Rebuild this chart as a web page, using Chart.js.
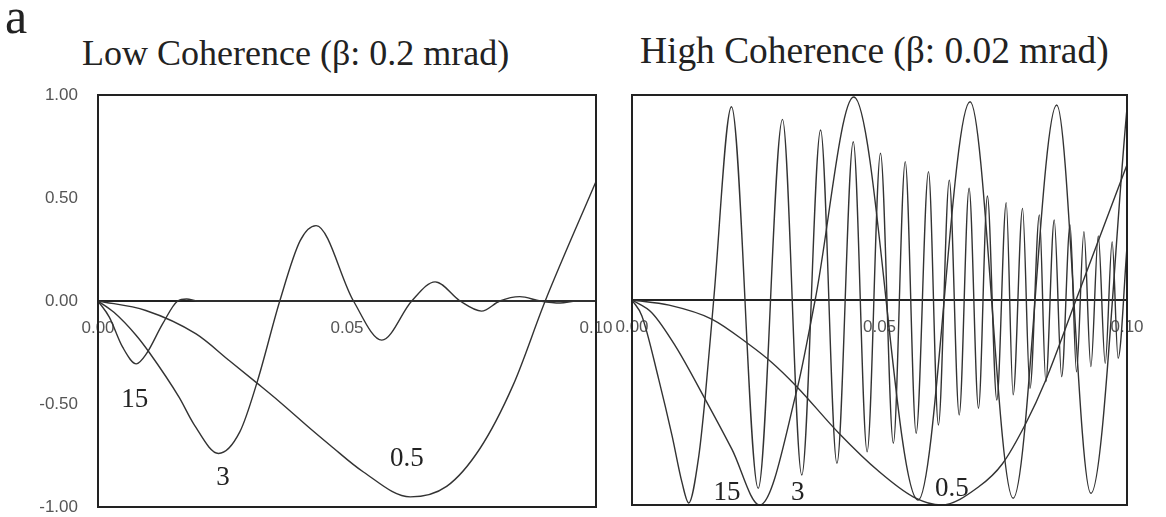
<!DOCTYPE html>
<html>
<head>
<meta charset="utf-8">
<script src="https://cdn.jsdelivr.net/npm/chart.js@4"></script>
<style>
  body { margin: 0; background: #fff; width: 1166px; height: 517px; position: relative; overflow: hidden; }
  canvas { position: absolute; top: 0; }
  .txt { position: absolute; font-family: "Liberation Serif", "Times New Roman", serif; color: #222; white-space: nowrap; line-height: 1; }
</style>
</head>
<body>
<div class="txt" style="left:5px; top:-9px; font-size:50px;">a</div>
<div class="txt" id="title-low" style="left:82px; top:35px; font-size:36px;"></div>
<div class="txt" id="title-high" style="left:640px; top:32px; font-size:37.4px;"></div>
<canvas id="ctf-low" width="644" height="540" style="left:0"></canvas>
<canvas id="ctf-high" width="591" height="540" style="left:584px"></canvas>
<script>
// Panel titles and curve labels (defocus)
const panelTitles = ['Low Coherence (\u03B2: 0.2 mrad)', 'High Coherence (\u03B2: 0.02 mrad)'];
const defocusLabels = ['15', '3', '0.5'];

// Tick labels
const yTicks = [1.00, 0.50, 0.00, -0.50, -1.00];
const xTicks = [0.00, 0.05, 0.10];

// Low coherence, values (spatial frequency / CTF)
const lowFreq15 = [0, 0.00227, 0.00495, 0.0077, 0.0097, 0.013, 0.016, 0.0178, 0.020, 0.100];
const lowCtf15  = [0, -0.078, -0.224, -0.305, -0.257, -0.11, 0, 0.010, 0, 0];

const lowFreq3 = [0, 0.0032, 0.0076, 0.0103, 0.0163, 0.0193, 0.0242, 0.0285, 0.032, 0.0365, 0.0406, 0.0438, 0.0513, 0.057, 0.063, 0.0677, 0.0727, 0.077, 0.0807, 0.0847, 0.0888, 0.0928, 0.0961, 0.100];
const lowCtf3  = [0, -0.055, -0.165, -0.25, -0.468, -0.60, -0.74, -0.634, -0.39, 0, 0.293, 0.366, 0, -0.19, 0, 0.093, 0, -0.049, 0, 0.021, 0, -0.01, 0, 0];

const lowFreq05 = [0, 0.0096, 0.0197, 0.0264, 0.032, 0.0365, 0.0429, 0.0466, 0.0533, 0.0627, 0.070, 0.0767, 0.0834, 0.0898, 0.100];
const lowCtf05  = [0, -0.046, -0.16, -0.29, -0.40, -0.49, -0.625, -0.70, -0.83, -0.951, -0.90, -0.716, -0.406, 0, 0.58];

// High coherence
const highFreq15 = [0, 0.002, 0.0054, 0.0081, 0.0101, 0.01145, 0.0135, 0.0148, 0.0165, 0.0201, 0.0255, 0.0304, 0.0343, 0.0381, 0.0414, 0.0447, 0.0475,
  0.0502, 0.0528, 0.0552, 0.0574, 0.0599, 0.0619, 0.0641, 0.0661, 0.0681, 0.070, 0.0718, 0.0737, 0.0756, 0.077, 0.0789, 0.0804,
  0.0823, 0.0836, 0.0853, 0.0868, 0.0885, 0.0898, 0.0913, 0.0927, 0.0942, 0.0956, 0.097, 0.0982, 0.100];
const highCtf15  = [0, -0.078, -0.387, -0.663, -0.89, -0.99, -0.76, -0.47, 0, 0.943, -0.919, 0.881, -0.854, 0.829, -0.797, 0.772, -0.74,
  0.716, -0.699, 0.675, -0.65, 0.626, -0.61, 0.585, -0.561, 0.545, -0.528, 0.507, -0.488, 0.475, -0.463, 0.447, -0.431,
  0.415, -0.398, 0.39, -0.374, 0.366, -0.35, 0.333, -0.325, 0.312, -0.309, 0.284, -0.284, 0.26];

const highFreq3 = [0, 0.004, 0.00875, 0.0148, 0.0202, 0.0258, 0.0333, 0.037, 0.0448, 0.0578, 0.0683, 0.077, 0.0858, 0.0927, 0.100];
const highCtf3  = [0, -0.062, -0.224, -0.485, -0.729, -1.0, -0.44, 0, 0.99, -0.976, 0.967, -0.967, 0.951, -0.943, 0.935];

const highFreq05 = [0, 0.0075, 0.0162, 0.0236, 0.0283, 0.0333, 0.0418, 0.0499, 0.0568, 0.0625, 0.0701, 0.0748, 0.0796, 0.0836, 0.0897, 0.100];
const highCtf05  = [0, -0.025, -0.094, -0.216, -0.306, -0.423, -0.65, -0.837, -0.96, -1.0, -0.91, -0.8, -0.6, -0.39, 0, 0.66];

document.addEventListener('DOMContentLoaded', function() {
    document.getElementById('title-low').textContent = panelTitles[0];
    document.getElementById('title-high').textContent = panelTitles[1];

    const toPoints = (xs, ys) => xs.map((x, i) => ({ x: x, y: ys[i] }));

    // Box around the plot area
    const framePlugin = {
        id: 'frame',
        afterDraw(chart) {
            const { ctx, chartArea: a } = chart;
            ctx.save();
            ctx.strokeStyle = '#222';
            ctx.lineWidth = 2;
            ctx.strokeRect(a.left, a.top, a.right - a.left, a.bottom - a.top);
            ctx.restore();
        }
    };

    // Defocus labels written next to the curves, in data units
    const curveLabelPlugin = {
        id: 'curveLabels',
        afterDatasetsDraw(chart, args, opts) {
            const { ctx, scales } = chart;
            ctx.save();
            ctx.font = '27px "Liberation Serif", serif';
            ctx.fillStyle = '#222';
            ctx.textAlign = 'center';
            ctx.textBaseline = 'middle';
            (opts.items || []).forEach(it => {
                ctx.fillText(it.text, scales.x.getPixelForValue(it.x), scales.y.getPixelForValue(it.y));
            });
            ctx.restore();
        }
    };

    function makeDataset(points) {
        return {
            data: points,
            borderColor: '#333',
            borderWidth: 1.4,
            pointRadius: 0,
            fill: false,
            cubicInterpolationMode: 'monotone'
        };
    }

    // padding must cover the label overhang Chart.js reserves (half label + tick padding)
    function buildChart(canvasId, series, labels, showY, padding, yWidth) {
        const ctx = document.getElementById(canvasId).getContext('2d');
        return new Chart(ctx, {
            type: 'line',
            data: { datasets: series.map(makeDataset) },
            options: {
                responsive: false,
                animation: false,
                devicePixelRatio: 1,
                layout: { padding: padding },
                plugins: {
                    legend: { display: false },
                    tooltip: { enabled: false },
                    curveLabels: { items: labels }
                },
                scales: {
                    x: {
                        type: 'linear',
                        min: 0,
                        max: 0.1,
                        position: { y: 0 },
                        grid: { display: false, drawTicks: false },
                        border: { display: true, color: '#222', width: 2 },
                        afterBuildTicks: s => { s.ticks = xTicks.map(v => ({ value: v })); },
                        ticks: {
                            padding: 17,
                            maxRotation: 0,
                            color: '#555',
                            font: { family: '"Liberation Sans", Arial, sans-serif', size: 17 },
                            callback: v => v.toFixed(2)
                        }
                    },
                    y: {
                        min: -1,
                        max: 1,
                        grid: { display: false, drawTicks: false },
                        border: { display: false },
                        afterBuildTicks: s => { s.ticks = yTicks.map(v => ({ value: v })); },
                        afterFit: s => { s.width = yWidth; },
                        ticks: {
                            display: showY,
                            padding: 20,
                            color: '#555',
                            font: { family: '"Liberation Sans", Arial, sans-serif', size: 17 },
                            callback: v => v.toFixed(2)
                        }
                    }
                }
            },
            plugins: [framePlugin, curveLabelPlugin]
        });
    }

    buildChart('ctf-low',
        [toPoints(lowFreq15, lowCtf15), toPoints(lowFreq3, lowCtf3), toPoints(lowFreq05, lowCtf05)],
        [
            { text: defocusLabels[0], x: 0.0074, y: -0.478 },
            { text: defocusLabels[1], x: 0.0251, y: -0.86 },
            { text: defocusLabels[2], x: 0.062, y: -0.766 }
        ],
        true, { top: 95, right: 48, bottom: 33, left: 0 }, 98);

    buildChart('ctf-high',
        [toPoints(highFreq15, highCtf15), toPoints(highFreq3, highCtf3), toPoints(highFreq05, highCtf05)],
        [
            { text: defocusLabels[0], x: 0.0192, y: -0.94 },
            { text: defocusLabels[1], x: 0.0335, y: -0.94 },
            { text: defocusLabels[2], x: 0.0646, y: -0.92 }
        ],
        false, { top: 95, right: 48, bottom: 35, left: 0 }, 48);
});
</script>
</body>
</html>
